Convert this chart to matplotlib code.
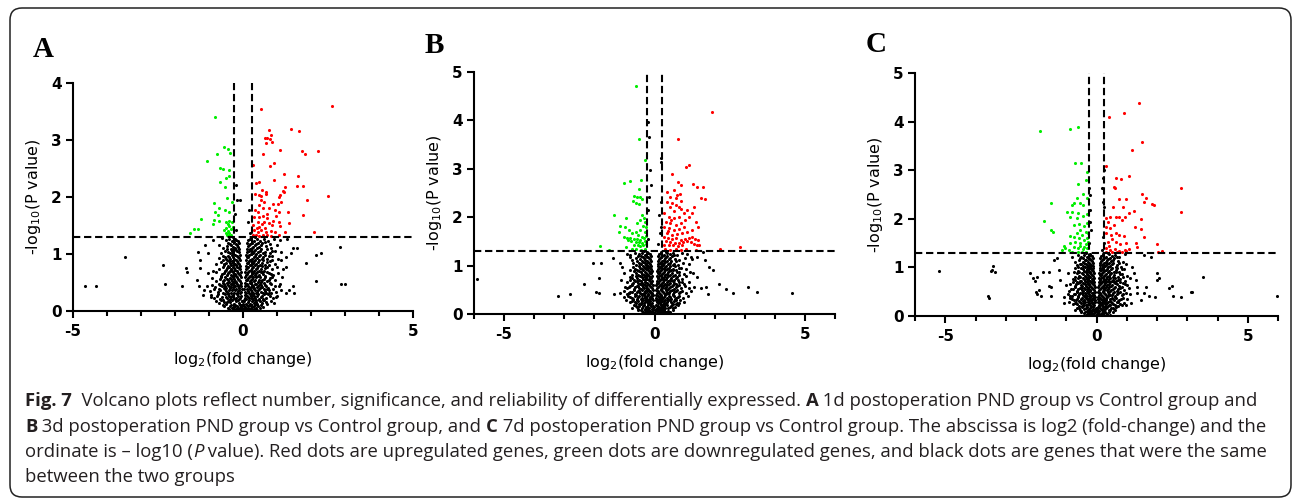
import numpy as np
import matplotlib
matplotlib.use("Agg")
import matplotlib.pyplot as plt
from matplotlib.patches import FancyBboxPatch
from matplotlib.transforms import IdentityTransform
from matplotlib.ticker import MultipleLocator

plt.rcParams["axes.unicode_minus"] = False

# thresholds used in all three panels
fc_cut = 0.263    # log2(1.2)
p_cut = 1.301     # -log10(0.05)

# ---------------- panel A (1d) ----------------
a_core = [
    (-0.04, 0.03), (-0.09, 0.06), (-0.13, 0.02), (-0.18, 0.08), (-0.22, 0.04), (-0.27, 0.07), (-0.33, 0.05), (-0.39, 0.09),
    (-0.45, 0.06), (-0.07, 0.11), (-0.12, 0.14), (-0.2, 0.17), (-0.26, 0.12), (-0.31, 0.19), (-0.37, 0.15), (-0.44, 0.18),
    (-0.5, 0.13), (-0.57, 0.16), (-0.64, 0.19), (-0.72, 0.14), (-0.08, 0.22), (-0.15, 0.26), (-0.21, 0.23), (-0.28, 0.28),
    (-0.34, 0.24), (-0.41, 0.27), (-0.47, 0.22), (-0.54, 0.29), (-0.61, 0.25), (-0.68, 0.21), (-0.77, 0.27), (-0.86, 0.23),
    (-0.95, 0.28), (-0.06, 0.33), (-0.11, 0.37), (-0.17, 0.31), (-0.23, 0.36), (-0.29, 0.39), (-0.35, 0.32), (-0.4, 0.37),
    (-0.46, 0.34), (-0.53, 0.38), (-0.6, 0.31), (-0.67, 0.36), (-0.75, 0.33), (-0.84, 0.38), (-0.98, 0.35), (-0.07, 0.44),
    (-0.13, 0.41), (-0.19, 0.47), (-0.25, 0.43), (-0.31, 0.48), (-0.36, 0.42), (-0.43, 0.46), (-0.49, 0.41), (-0.56, 0.47),
    (-0.63, 0.43), (-0.72, 0.48), (-0.81, 0.42), (-0.92, 0.46), (-1.06, 0.44), (-0.08, 0.53), (-0.14, 0.57), (-0.2, 0.51),
    (-0.26, 0.56), (-0.32, 0.52), (-0.38, 0.58), (-0.45, 0.54), (-0.52, 0.59), (-0.6, 0.52), (-0.69, 0.57), (-0.79, 0.53),
    (-0.91, 0.58), (-0.09, 0.63), (-0.15, 0.67), (-0.22, 0.62), (-0.28, 0.68), (-0.34, 0.64), (-0.41, 0.69), (-0.48, 0.63),
    (-0.56, 0.67), (-0.66, 0.62), (-0.78, 0.68), (-0.1, 0.73), (-0.17, 0.77), (-0.23, 0.72), (-0.3, 0.78), (-0.36, 0.74),
    (-0.43, 0.79), (-0.51, 0.72), (-0.6, 0.77), (-0.72, 0.74), (-0.87, 0.71), (-0.11, 0.83), (-0.18, 0.87), (-0.25, 0.82),
    (-0.31, 0.88), (-0.38, 0.84), (-0.46, 0.89), (-0.55, 0.83), (-0.66, 0.86), (-0.8, 0.82), (-0.12, 0.93), (-0.19, 0.97),
    (-0.26, 0.92), (-0.33, 0.98), (-0.4, 0.94), (-0.49, 0.91), (-0.59, 0.96), (-0.72, 0.93), (-0.13, 1.03), (-0.21, 1.07),
    (-0.28, 1.02), (-0.35, 1.08), (-0.43, 1.04), (-0.53, 1.06), (-0.65, 1.01), (-0.14, 1.13), (-0.22, 1.17), (-0.3, 1.12),
    (-0.37, 1.18), (-0.46, 1.14), (-0.58, 1.11), (-0.7, 1.16), (-0.15, 1.23), (-0.24, 1.27), (-0.32, 1.22), (-0.4, 1.26),
    (-0.5, 1.24), (-0.62, 1.28), (0.0, 0.01), (-0.02, 0.05), (0.02, 0.09), (0.0, 0.13), (-0.03, 0.17), (0.03, 0.2),
    (0.03, 0.02), (0.07, 0.05), (0.12, 0.03), (0.16, 0.08), (0.21, 0.04), (0.26, 0.07), (0.31, 0.03), (0.37, 0.06),
    (0.43, 0.09), (0.5, 0.05), (0.08, 0.12), (0.14, 0.16), (0.2, 0.13), (0.25, 0.18), (0.31, 0.14), (0.36, 0.19),
    (0.42, 0.12), (0.49, 0.17), (0.56, 0.14), (0.63, 0.19), (0.71, 0.13), (0.82, 0.17), (0.07, 0.23), (0.12, 0.27),
    (0.18, 0.22), (0.24, 0.26), (0.3, 0.29), (0.36, 0.23), (0.42, 0.27), (0.48, 0.21), (0.55, 0.26), (0.62, 0.29),
    (0.69, 0.23), (0.78, 0.27), (0.88, 0.22), (0.99, 0.26), (0.06, 0.34), (0.11, 0.38), (0.17, 0.32), (0.23, 0.36),
    (0.29, 0.31), (0.35, 0.37), (0.41, 0.33), (0.47, 0.39), (0.54, 0.34), (0.61, 0.38), (0.68, 0.32), (0.77, 0.36),
    (0.87, 0.39), (0.98, 0.33), (1.12, 0.37), (0.07, 0.44), (0.13, 0.48), (0.19, 0.42), (0.25, 0.46), (0.31, 0.41),
    (0.37, 0.47), (0.44, 0.43), (0.5, 0.48), (0.57, 0.42), (0.65, 0.46), (0.73, 0.41), (0.83, 0.47), (0.95, 0.43),
    (1.08, 0.48), (0.08, 0.54), (0.14, 0.58), (0.2, 0.52), (0.26, 0.57), (0.33, 0.53), (0.39, 0.59), (0.46, 0.55),
    (0.53, 0.51), (0.61, 0.57), (0.7, 0.53), (0.8, 0.58), (0.93, 0.54), (0.09, 0.64), (0.15, 0.68), (0.21, 0.62),
    (0.28, 0.67), (0.34, 0.63), (0.41, 0.69), (0.48, 0.64), (0.56, 0.68), (0.65, 0.62), (0.75, 0.67), (0.88, 0.63),
    (1.03, 0.66), (0.1, 0.74), (0.16, 0.78), (0.23, 0.72), (0.3, 0.77), (0.37, 0.73), (0.44, 0.79), (0.52, 0.74),
    (0.61, 0.71), (0.71, 0.77), (0.84, 0.73), (1.0, 0.78), (1.18, 0.74), (0.11, 0.84), (0.18, 0.88), (0.25, 0.82),
    (0.32, 0.87), (0.39, 0.83), (0.47, 0.89), (0.56, 0.84), (0.66, 0.81), (0.78, 0.87), (0.93, 0.83), (0.12, 0.94),
    (0.19, 0.98), (0.27, 0.92), (0.34, 0.97), (0.42, 0.93), (0.5, 0.99), (0.6, 0.94), (0.71, 0.91), (0.85, 0.96),
    (1.02, 0.92), (0.13, 1.04), (0.21, 1.08), (0.28, 1.02), (0.36, 1.07), (0.45, 1.03), (0.54, 1.09), (0.65, 1.04),
    (0.78, 1.01), (0.94, 1.06), (1.12, 1.03), (0.14, 1.14), (0.22, 1.18), (0.3, 1.12), (0.38, 1.17), (0.47, 1.13),
    (0.57, 1.19), (0.69, 1.14), (0.83, 1.11), (0.99, 1.16), (0.15, 1.24), (0.23, 1.28), (0.31, 1.22), (0.4, 1.27),
    (0.5, 1.23), (0.61, 1.26), (0.74, 1.22), (0.9, 1.27), (1.1, 1.24), (1.3, 1.26),
    # denser inner arms
    (-0.06, 0.08), (-0.15, 0.05), (-0.24, 0.09), (-0.3, 0.02), (-0.42, 0.03), (-0.55, 0.08), (-0.04, 0.18), (-0.09, 0.1),
    (-0.16, 0.19), (-0.23, 0.11), (-0.34, 0.11), (-0.4, 0.2), (-0.47, 0.16), (-0.6, 0.11), (-0.8, 0.17), (-0.05, 0.27),
    (-0.11, 0.21), (-0.18, 0.29), (-0.25, 0.21), (-0.31, 0.26), (-0.38, 0.21), (-0.44, 0.3), (-0.51, 0.24), (-0.58, 0.2),
    (-0.73, 0.3), (-0.04, 0.39), (-0.09, 0.31), (-0.14, 0.35), (-0.2, 0.39), (-0.26, 0.31), (-0.32, 0.36), (-0.38, 0.4),
    (-0.43, 0.31), (-0.5, 0.35), (-0.56, 0.4), (-0.71, 0.39), (-0.05, 0.49), (-0.1, 0.45), (-0.16, 0.43), (-0.22, 0.5),
    (-0.28, 0.45), (-0.34, 0.47), (-0.4, 0.43), (-0.46, 0.5), (-0.52, 0.44), (-0.6, 0.49), (-0.67, 0.45), (-0.06, 0.6),
    (-0.11, 0.54), (-0.17, 0.59), (-0.23, 0.53), (-0.29, 0.6), (-0.35, 0.56), (-0.42, 0.51), (-0.48, 0.57), (-0.56, 0.55),
    (-0.65, 0.6), (-0.07, 0.69), (-0.12, 0.65), (-0.18, 0.7), (-0.25, 0.65), (-0.31, 0.62), (-0.37, 0.7), (-0.44, 0.66),
    (-0.52, 0.7), (-0.61, 0.65), (-0.08, 0.79), (-0.13, 0.75), (-0.2, 0.8), (-0.26, 0.75), (-0.33, 0.71), (-0.4, 0.77),
    (-0.47, 0.76), (-0.55, 0.8), (-0.09, 0.9), (-0.15, 0.85), (-0.21, 0.9), (-0.28, 0.85), (-0.35, 0.81), (-0.42, 0.87),
    (-0.5, 0.85), (-0.6, 0.9), (-0.1, 0.99), (-0.16, 0.95), (-0.23, 0.99), (-0.3, 0.95), (-0.37, 0.91), (-0.45, 0.97),
    (-0.54, 0.94), (-0.11, 1.09), (-0.17, 1.05), (-0.24, 1.1), (-0.32, 1.05), (-0.39, 1.01), (-0.48, 1.09), (-0.12, 1.19),
    (-0.19, 1.15), (-0.26, 1.21), (-0.34, 1.15), (-0.43, 1.2), (-0.2, 1.25), (-0.28, 1.3),
    (0.05, 0.07), (0.14, 0.05), (0.23, 0.09), (0.33, 0.08), (0.4, 0.02), (0.6, 0.07), (0.04, 0.17), (0.11, 0.1),
    (0.17, 0.19), (0.22, 0.11), (0.28, 0.2), (0.34, 0.11), (0.39, 0.16), (0.46, 0.19), (0.53, 0.11), (0.67, 0.16),
    (0.92, 0.14), (0.05, 0.28), (0.1, 0.21), (0.15, 0.25), (0.21, 0.29), (0.27, 0.22), (0.33, 0.27), (0.39, 0.2),
    (0.45, 0.29), (0.52, 0.24), (0.59, 0.21), (0.74, 0.29), (0.04, 0.39), (0.09, 0.32), (0.14, 0.35), (0.2, 0.39),
    (0.26, 0.33), (0.32, 0.39), (0.38, 0.31), (0.44, 0.36), (0.51, 0.4), (0.58, 0.31), (0.64, 0.35), (0.72, 0.39),
    (0.82, 0.31), (0.05, 0.49), (0.1, 0.45), (0.16, 0.43), (0.22, 0.49), (0.28, 0.44), (0.34, 0.48), (0.41, 0.42),
    (0.47, 0.46), (0.54, 0.45), (0.61, 0.49), (0.69, 0.44), (0.78, 0.49), (0.06, 0.59), (0.11, 0.55), (0.17, 0.6),
    (0.23, 0.54), (0.3, 0.6), (0.36, 0.55), (0.43, 0.51), (0.5, 0.59), (0.57, 0.55), (0.65, 0.59), (0.75, 0.55),
    (0.86, 0.6), (0.07, 0.69), (0.12, 0.65), (0.18, 0.7), (0.25, 0.65), (0.31, 0.7), (0.38, 0.66), (0.45, 0.62),
    (0.52, 0.69), (0.6, 0.65), (0.7, 0.69), (0.81, 0.65), (0.08, 0.79), (0.13, 0.75), (0.2, 0.8), (0.27, 0.75),
    (0.34, 0.8), (0.41, 0.76), (0.48, 0.71), (0.56, 0.79), (0.66, 0.76), (0.77, 0.8), (0.09, 0.89), (0.15, 0.85),
    (0.21, 0.9), (0.29, 0.85), (0.36, 0.9), (0.43, 0.86), (0.51, 0.81), (0.6, 0.89), (0.71, 0.86), (0.85, 0.9),
    (0.1, 0.99), (0.16, 0.95), (0.23, 1.0), (0.31, 0.95), (0.38, 1.0), (0.46, 0.96), (0.55, 0.91), (0.65, 0.99),
    (0.77, 0.96), (0.11, 1.09), (0.18, 1.05), (0.25, 1.1), (0.33, 1.05), (0.41, 1.1), (0.5, 1.06), (0.6, 1.01),
    (0.72, 1.09), (0.86, 1.06), (0.12, 1.19), (0.19, 1.15), (0.26, 1.2), (0.35, 1.15), (0.44, 1.2), (0.53, 1.16),
    (0.64, 1.21), (0.78, 1.18), (0.2, 1.26), (0.36, 1.3),
]
a_black = [
    (-4.65, 0.43), (-4.31, 0.44), (-3.46, 0.94), (-2.36, 0.80), (-2.29, 0.47), (-1.79, 0.43), (-1.68, 0.75), (-1.66, 0.69),
    (-1.31, 1.04), (-1.26, 0.89), (-1.35, 0.54), (-1.29, 0.43), (-1.14, 0.37), (-1.19, 0.28), (-0.94, 0.25), (-1.26, 0.75),
    (-1.04, 0.66), (-1.11, 1.16), (-1.02, 1.01), (-0.89, 1.25), (2.86, 1.12), (2.88, 0.47), (3.01, 0.47), (2.15, 0.53),
    (2.15, 0.99), (2.29, 1.01), (1.85, 0.85), (1.51, 0.31), (1.36, 0.37), (1.46, 0.43), (1.46, 1.10), (1.58, 1.10),
    (1.41, 1.01), (1.26, 0.95), (0.97, 0.25), (1.07, 0.43), (1.16, 0.60), (1.26, 0.78), (1.12, 0.89), (1.26, 0.31),
    (0.58, 0.19), (0.77, 0.31), (-0.21, 2.21), (-0.19, 1.95), (-0.23, 1.71), (-0.21, 1.42), (0.19, 1.77), (0.16, 1.57),
    (0.21, 1.36), (-0.09, 1.95),
]
a_green = [
    (-0.82, 3.40), (-0.55, 2.87), (-0.45, 2.84), (-0.38, 2.78), (-0.76, 2.75), (-1.07, 2.63), (-0.69, 2.51), (-0.58, 2.49),
    (-0.42, 2.47), (-0.40, 2.36), (-0.50, 2.34), (-0.67, 2.26), (-0.52, 2.17), (-0.86, 1.89), (-0.47, 1.98), (-0.33, 1.91),
    (-0.72, 1.80), (-0.81, 1.74), (-0.54, 1.77), (-0.42, 1.74), (-0.75, 1.68), (-1.24, 1.61), (-0.85, 1.60), (-0.70, 1.58),
    (-0.50, 1.57), (-0.40, 1.58), (-0.32, 1.57), (-0.45, 1.52), (-0.40, 1.49), (-0.50, 1.45), (-0.35, 1.43), (-0.45, 1.40),
    (-0.40, 1.37), (-0.50, 1.37), (-0.35, 1.33), (-0.42, 1.32), (-0.89, 1.52), (-1.43, 1.44), (-1.32, 1.44), (-1.56, 1.37),
    (-0.55, 1.42), (-0.30, 1.47), (-0.47, 1.34),
]
a_red = [
    (0.53, 3.54), (2.61, 3.60), (0.76, 3.17), (0.83, 3.09), (0.64, 3.03), (0.72, 3.04), (0.78, 3.01), (0.68, 2.94),
    (0.86, 2.97), (1.41, 3.20), (1.65, 3.15), (1.09, 2.82), (1.74, 2.80), (1.83, 2.76), (2.21, 2.81), (0.60, 2.75),
    (0.91, 2.60), (0.79, 2.55), (0.30, 2.57), (1.21, 2.41), (1.62, 2.37), (0.91, 2.29), (0.38, 2.25), (0.46, 2.26),
    (1.24, 2.18), (1.58, 2.19), (1.75, 2.20), (0.55, 2.12), (0.68, 2.09), (1.18, 2.11), (1.21, 2.08), (2.49, 2.02),
    (0.35, 2.05), (0.46, 2.04), (0.54, 2.01), (0.68, 2.06), (1.08, 2.04), (1.07, 2.00), (1.89, 1.94), (0.63, 1.91),
    (0.87, 1.88), (1.04, 1.87), (1.11, 1.91), (0.48, 1.86), (0.60, 1.81), (0.75, 1.80), (0.95, 1.77), (0.36, 1.77),
    (0.45, 1.74), (1.07, 1.73), (1.33, 1.74), (1.77, 1.68), (0.33, 1.65), (0.48, 1.65), (0.60, 1.66), (0.72, 1.64),
    (0.97, 1.66), (0.87, 1.58), (1.05, 1.56), (1.34, 1.55), (0.43, 1.57), (0.63, 1.57), (0.77, 1.55), (0.30, 1.51),
    (0.48, 1.48), (0.66, 1.46), (0.85, 1.50), (1.09, 1.49), (0.33, 1.42), (0.43, 1.39), (0.54, 1.42), (0.68, 1.38),
    (0.82, 1.41), (0.95, 1.38), (1.24, 1.39), (2.09, 1.39), (0.28, 1.33), (0.38, 1.34), (0.48, 1.32), (0.58, 1.33),
    (0.72, 1.33), (0.82, 1.32), (1.07, 1.34), (0.40, 1.45), (0.56, 1.52), (0.70, 1.70), (0.52, 1.95),
]

# ---------------- panel B (3d) ----------------
b_core = [
    (-0.03, 0.02), (-0.08, 0.05), (-0.13, 0.03), (-0.18, 0.07), (-0.24, 0.04), (-0.3, 0.08), (-0.37, 0.05), (-0.45, 0.09),
    (-0.06, 0.12), (-0.11, 0.16), (-0.17, 0.13), (-0.23, 0.18), (-0.29, 0.14), (-0.35, 0.19), (-0.42, 0.12), (-0.5, 0.17),
    (-0.58, 0.14), (-0.67, 0.19), (-0.08, 0.23), (-0.14, 0.27), (-0.2, 0.22), (-0.26, 0.28), (-0.32, 0.24), (-0.39, 0.29),
    (-0.46, 0.23), (-0.54, 0.27), (-0.62, 0.22), (-0.71, 0.28), (-0.82, 0.25), (-0.94, 0.29), (-0.07, 0.34), (-0.12, 0.38),
    (-0.18, 0.32), (-0.24, 0.37), (-0.3, 0.33), (-0.36, 0.39), (-0.43, 0.34), (-0.5, 0.38), (-0.58, 0.32), (-0.66, 0.37),
    (-0.76, 0.33), (-0.88, 0.38), (-1.02, 0.35), (-0.08, 0.44), (-0.14, 0.48), (-0.2, 0.42), (-0.26, 0.47), (-0.33, 0.43),
    (-0.4, 0.49), (-0.47, 0.44), (-0.55, 0.48), (-0.64, 0.42), (-0.74, 0.46), (-0.86, 0.43), (-1.0, 0.47), (-1.15, 0.44),
    (-0.09, 0.54), (-0.15, 0.58), (-0.21, 0.52), (-0.28, 0.57), (-0.35, 0.53), (-0.42, 0.59), (-0.5, 0.54), (-0.59, 0.58),
    (-0.69, 0.52), (-0.8, 0.57), (-0.93, 0.53), (-0.1, 0.64), (-0.16, 0.68), (-0.23, 0.62), (-0.3, 0.67), (-0.37, 0.63),
    (-0.45, 0.69), (-0.54, 0.64), (-0.64, 0.68), (-0.76, 0.62), (-0.9, 0.66), (-0.11, 0.74), (-0.17, 0.78), (-0.24, 0.72),
    (-0.31, 0.77), (-0.39, 0.73), (-0.47, 0.79), (-0.57, 0.74), (-0.68, 0.71), (-0.82, 0.77), (-0.12, 0.84), (-0.19, 0.88),
    (-0.26, 0.82), (-0.33, 0.87), (-0.41, 0.83), (-0.5, 0.89), (-0.61, 0.84), (-0.74, 0.81), (-0.13, 0.94), (-0.2, 0.98),
    (-0.27, 0.92), (-0.35, 0.97), (-0.43, 0.93), (-0.53, 0.99), (-0.65, 0.94), (-0.8, 0.91), (-0.14, 1.04), (-0.21, 1.08),
    (-0.29, 1.02), (-0.37, 1.07), (-0.46, 1.03), (-0.57, 1.09), (-0.7, 1.05), (-0.15, 1.14), (-0.22, 1.18), (-0.3, 1.12),
    (-0.39, 1.17), (-0.49, 1.13), (-0.6, 1.16), (-0.75, 1.12), (-0.16, 1.24), (-0.24, 1.28), (-0.32, 1.22), (-0.41, 1.27),
    (-0.52, 1.23), (-0.65, 1.26), (-0.82, 1.22), (0.03, 0.03), (0.08, 0.06), (0.13, 0.02), (0.18, 0.08), (0.24, 0.05),
    (0.3, 0.09), (0.37, 0.04), (0.44, 0.07), (0.52, 0.05), (0.07, 0.13), (0.12, 0.17), (0.18, 0.12), (0.24, 0.16),
    (0.3, 0.19), (0.36, 0.13), (0.43, 0.18), (0.5, 0.14), (0.58, 0.19), (0.67, 0.15), (0.77, 0.18), (0.07, 0.24),
    (0.12, 0.28), (0.18, 0.22), (0.24, 0.27), (0.3, 0.23), (0.36, 0.29), (0.43, 0.24), (0.5, 0.28), (0.58, 0.22),
    (0.66, 0.27), (0.75, 0.23), (0.86, 0.28), (0.98, 0.25), (0.06, 0.34), (0.11, 0.38), (0.17, 0.32), (0.23, 0.37),
    (0.29, 0.33), (0.35, 0.39), (0.42, 0.34), (0.49, 0.38), (0.56, 0.32), (0.64, 0.37), (0.73, 0.33), (0.83, 0.38),
    (0.95, 0.34), (1.1, 0.37), (0.07, 0.44), (0.13, 0.48), (0.19, 0.42), (0.25, 0.47), (0.32, 0.43), (0.38, 0.49),
    (0.45, 0.44), (0.53, 0.48), (0.61, 0.42), (0.7, 0.47), (0.8, 0.43), (0.92, 0.48), (1.06, 0.44), (1.22, 0.47),
    (0.08, 0.54), (0.14, 0.58), (0.2, 0.52), (0.27, 0.57), (0.34, 0.53), (0.41, 0.59), (0.49, 0.54), (0.57, 0.58),
    (0.66, 0.52), (0.76, 0.57), (0.88, 0.53), (1.02, 0.58), (0.09, 0.64), (0.15, 0.68), (0.22, 0.62), (0.29, 0.67),
    (0.36, 0.63), (0.44, 0.69), (0.52, 0.64), (0.61, 0.68), (0.71, 0.62), (0.83, 0.67), (0.97, 0.63), (1.14, 0.66),
    (0.1, 0.74), (0.16, 0.78), (0.23, 0.72), (0.3, 0.77), (0.38, 0.73), (0.46, 0.79), (0.55, 0.74), (0.65, 0.71),
    (0.76, 0.77), (0.9, 0.73), (1.06, 0.78), (0.11, 0.84), (0.18, 0.88), (0.25, 0.82), (0.32, 0.87), (0.4, 0.83),
    (0.49, 0.89), (0.58, 0.84), (0.69, 0.81), (0.82, 0.87), (0.98, 0.83), (1.18, 0.86), (0.12, 0.94), (0.19, 0.98),
    (0.26, 0.92), (0.34, 0.97), (0.42, 0.93), (0.51, 0.99), (0.61, 0.94), (0.73, 0.91), (0.87, 0.96), (1.04, 0.92),
    (0.13, 1.04), (0.2, 1.08), (0.28, 1.02), (0.36, 1.07), (0.45, 1.03), (0.55, 1.09), (0.66, 1.04), (0.79, 1.01),
    (0.95, 1.06), (1.14, 1.03), (0.14, 1.14), (0.22, 1.18), (0.3, 1.12), (0.38, 1.17), (0.47, 1.13), (0.57, 1.19),
    (0.69, 1.14), (0.83, 1.11), (1.0, 1.16), (1.25, 1.13), (0.15, 1.24), (0.23, 1.28), (0.31, 1.22), (0.4, 1.27),
    (0.5, 1.23), (0.61, 1.26), (0.74, 1.22), (0.9, 1.27), (1.08, 1.24), (0.0, 0.02), (0.01, 0.08), (-0.01, 0.14),
    # denser inner arms
    (-0.05, 0.08), (-0.15, 0.06), (-0.21, 0.1), (-0.33, 0.02), (-0.41, 0.07), (-0.55, 0.09), (-0.04, 0.17), (-0.09, 0.11),
    (-0.14, 0.2), (-0.2, 0.11), (-0.26, 0.15), (-0.32, 0.11), (-0.38, 0.16), (-0.46, 0.2), (-0.54, 0.11), (-0.62, 0.17),
    (-0.76, 0.13), (-0.05, 0.28), (-0.11, 0.21), (-0.17, 0.26), (-0.23, 0.22), (-0.29, 0.29), (-0.35, 0.22), (-0.42, 0.26),
    (-0.5, 0.21), (-0.58, 0.29), (-0.66, 0.24), (-0.76, 0.27), (-0.04, 0.39), (-0.09, 0.32), (-0.15, 0.36), (-0.21, 0.39),
    (-0.27, 0.31), (-0.33, 0.36), (-0.4, 0.4), (-0.46, 0.31), (-0.54, 0.35), (-0.62, 0.39), (-0.7, 0.32), (-0.82, 0.36),
    (-0.05, 0.49), (-0.11, 0.44), (-0.17, 0.47), (-0.23, 0.41), (-0.3, 0.48), (-0.36, 0.44), (-0.43, 0.41), (-0.51, 0.47),
    (-0.59, 0.45), (-0.69, 0.49), (-0.8, 0.45), (-0.93, 0.41), (-0.06, 0.59), (-0.12, 0.55), (-0.18, 0.6), (-0.24, 0.54),
    (-0.31, 0.6), (-0.38, 0.55), (-0.46, 0.51), (-0.54, 0.57), (-0.64, 0.55), (-0.74, 0.6), (-0.86, 0.56), (-0.07, 0.69),
    (-0.13, 0.65), (-0.19, 0.7), (-0.26, 0.65), (-0.33, 0.7), (-0.41, 0.65), (-0.49, 0.62), (-0.59, 0.69), (-0.7, 0.65),
    (-0.83, 0.7), (-0.08, 0.79), (-0.14, 0.75), (-0.2, 0.8), (-0.27, 0.75), (-0.35, 0.8), (-0.43, 0.76), (-0.52, 0.71),
    (-0.62, 0.79), (-0.75, 0.75), (-0.09, 0.89), (-0.15, 0.85), (-0.22, 0.9), (-0.29, 0.85), (-0.37, 0.9), (-0.45, 0.86),
    (-0.55, 0.81), (-0.67, 0.88), (-0.1, 0.99), (-0.16, 0.95), (-0.23, 1.0), (-0.31, 0.95), (-0.39, 1.0), (-0.48, 0.96),
    (-0.59, 0.91), (-0.72, 0.98), (-0.11, 1.09), (-0.18, 1.05), (-0.25, 1.1), (-0.33, 1.05), (-0.42, 1.1), (-0.51, 1.06),
    (-0.63, 1.01), (-0.12, 1.19), (-0.19, 1.15), (-0.27, 1.2), (-0.35, 1.15), (-0.44, 1.2), (-0.55, 1.19), (-0.2, 1.26),
    (-0.36, 1.3), (0.05, 0.09), (0.15, 0.05), (0.21, 0.08), (0.33, 0.07), (0.47, 0.02), (0.6, 0.08), (0.04, 0.18),
    (0.1, 0.11), (0.15, 0.15), (0.21, 0.19), (0.27, 0.12), (0.33, 0.16), (0.39, 0.2), (0.46, 0.12), (0.54, 0.17),
    (0.62, 0.12), (0.72, 0.2), (0.05, 0.29), (0.1, 0.22), (0.15, 0.26), (0.21, 0.29), (0.27, 0.21), (0.33, 0.26),
    (0.39, 0.22), (0.46, 0.29), (0.54, 0.25), (0.62, 0.21), (0.7, 0.29), (0.8, 0.22), (0.04, 0.39), (0.09, 0.31),
    (0.14, 0.35), (0.2, 0.39), (0.26, 0.31), (0.32, 0.36), (0.38, 0.41), (0.45, 0.31), (0.52, 0.35), (0.6, 0.4),
    (0.68, 0.31), (0.78, 0.36), (0.05, 0.49), (0.1, 0.45), (0.16, 0.43), (0.22, 0.5), (0.28, 0.45), (0.35, 0.41),
    (0.41, 0.46), (0.49, 0.43), (0.57, 0.49), (0.65, 0.45), (0.75, 0.5), (0.86, 0.45), (0.06, 0.59), (0.11, 0.55),
    (0.17, 0.6), (0.24, 0.53), (0.3, 0.59), (0.37, 0.56), (0.45, 0.51), (0.53, 0.56), (0.61, 0.6), (0.71, 0.55),
    (0.82, 0.6), (0.07, 0.69), (0.12, 0.65), (0.19, 0.7), (0.25, 0.64), (0.32, 0.7), (0.4, 0.66), (0.48, 0.61),
    (0.56, 0.7), (0.66, 0.65), (0.77, 0.7), (0.9, 0.66), (0.08, 0.79), (0.13, 0.75), (0.2, 0.8), (0.27, 0.75),
    (0.34, 0.8), (0.42, 0.76), (0.5, 0.71), (0.6, 0.79), (0.7, 0.75), (0.83, 0.8), (0.09, 0.89), (0.15, 0.85),
    (0.21, 0.9), (0.29, 0.85), (0.36, 0.9), (0.44, 0.86), (0.53, 0.81), (0.63, 0.9), (0.75, 0.86), (0.1, 0.99),
    (0.16, 0.95), (0.23, 1.0), (0.3, 0.95), (0.38, 1.0), (0.47, 0.96), (0.56, 0.91), (0.67, 0.99), (0.8, 0.96),
    (0.11, 1.09), (0.17, 1.05), (0.24, 1.1), (0.32, 1.05), (0.41, 1.1), (0.5, 1.06), (0.61, 1.01), (0.73, 1.09),
    (0.12, 1.19), (0.18, 1.15), (0.26, 1.2), (0.34, 1.15), (0.43, 1.2), (0.52, 1.16), (0.65, 1.21), (0.2, 1.26),
    (0.37, 1.29),
]
b_black = [
    (-5.91, 0.72), (-3.21, 0.38), (-2.82, 0.41), (-2.33, 0.61), (-2.06, 1.05), (-1.78, 1.05), (-1.83, 0.75), (-1.94, 0.45),
    (-1.83, 0.43), (-1.38, 1.15), (-1.36, 0.41), (-1.16, 1.06), (-1.08, 0.98), (-1.00, 0.84), (-1.13, 0.70), (-0.97, 0.56),
    (-0.86, 0.43), (-0.93, 1.25), (-0.80, 1.18), (1.60, 1.29), (1.67, 1.12), (1.82, 0.98), (1.94, 0.91), (2.14, 0.63),
    (2.37, 0.51), (2.62, 0.43), (3.11, 0.55), (3.40, 0.45), (4.57, 0.43), (1.53, 0.53), (1.78, 0.41), (1.70, 0.56),
    (1.31, 0.56), (1.14, 0.53), (1.42, 0.77), (1.29, 0.84), (1.20, 1.18), (1.42, 1.18), (-0.22, 3.97), (-0.19, 3.66),
    (-0.16, 2.98), (-0.11, 2.67), (-0.19, 2.42), (-0.22, 2.15), (0.20, 3.22), (0.20, 2.32), (0.14, 2.05), (0.22, 1.80),
    (0.18, 1.67), (0.22, 3.15), (-0.20, 1.55), (0.10, 1.45),
]
b_green = [
    (-0.62, 4.72), (-0.53, 3.62), (-0.31, 3.18), (-1.02, 2.71), (-0.80, 2.75), (-0.44, 2.77), (-0.52, 2.58), (-0.67, 2.44),
    (-0.58, 2.41), (-0.47, 2.42), (-0.71, 2.34), (-0.60, 2.30), (-0.52, 2.27), (-0.41, 2.37), (-1.36, 2.04), (-0.96, 1.99),
    (-0.41, 2.05), (-0.36, 1.98), (-0.47, 1.94), (-0.31, 1.91), (-0.58, 1.87), (-0.38, 1.82), (-0.27, 1.80), (-1.16, 1.82),
    (-1.19, 1.70), (-0.97, 1.80), (-0.86, 1.74), (-0.74, 1.67), (-0.63, 1.70), (-0.47, 1.74), (-0.33, 1.70), (-0.56, 1.63),
    (-0.41, 1.60), (-0.28, 1.61), (-1.02, 1.60), (-0.91, 1.56), (-0.80, 1.58), (-0.69, 1.54), (-0.58, 1.55), (-0.47, 1.53),
    (-0.36, 1.56), (-0.78, 1.50), (-0.63, 1.48), (-0.52, 1.49), (-0.41, 1.47), (-0.30, 1.50), (-0.69, 1.43), (-0.56, 1.42),
    (-0.38, 1.43), (-0.27, 1.44), (-0.47, 1.41), (-0.88, 1.52), (-1.82, 1.40), (-1.52, 1.32), (-0.95, 1.38), (-0.75, 1.35),
    (-0.60, 1.34), (-0.45, 1.33), (-0.33, 1.35),
]
b_red = [
    (1.91, 4.18), (0.79, 3.62), (1.14, 3.08), (1.04, 3.04), (0.59, 2.89), (0.78, 2.73), (0.87, 2.67), (0.42, 2.53),
    (0.64, 2.56), (0.76, 2.46), (0.84, 2.48), (0.53, 2.42), (0.70, 2.39), (0.87, 2.34), (0.40, 2.32), (0.59, 2.30),
    (0.70, 2.25), (0.81, 2.22), (0.89, 2.16), (0.51, 2.22), (1.29, 2.68), (1.42, 2.62), (1.61, 2.63), (1.53, 2.39),
    (1.68, 2.37), (1.31, 2.22), (1.09, 2.15), (0.98, 2.08), (1.14, 2.01), (1.26, 2.08), (1.03, 1.94), (0.31, 2.08),
    (0.48, 2.01), (0.64, 1.98), (0.81, 2.01), (0.37, 1.91), (0.53, 1.87), (0.70, 1.84), (0.87, 1.87), (0.31, 1.80),
    (0.48, 1.77), (0.64, 1.74), (0.81, 1.75), (0.98, 1.80), (0.40, 1.67), (0.59, 1.63), (0.76, 1.65), (0.92, 1.68),
    (1.09, 1.70), (1.26, 1.74), (1.37, 1.91), (1.44, 1.80), (1.26, 1.60), (1.14, 1.56), (1.34, 1.54), (1.46, 1.52),
    (1.42, 1.43), (0.31, 1.60), (0.46, 1.56), (0.59, 1.54), (0.73, 1.57), (0.87, 1.52), (1.00, 1.55), (0.37, 1.50),
    (0.51, 1.48), (0.67, 1.47), (0.81, 1.46), (0.96, 1.48), (1.09, 1.50), (0.31, 1.43), (0.48, 1.42), (0.62, 1.43),
    (0.78, 1.41), (0.92, 1.43), (1.20, 1.48), (1.31, 1.44), (2.17, 1.35), (2.84, 1.38), (1.38, 1.32), (1.48, 1.42),
    (0.35, 1.34), (0.52, 1.33), (0.70, 1.35), (0.88, 1.33), (1.05, 1.34), (0.44, 1.72), (0.66, 2.12), (0.55, 1.95),
]

# ---------------- panel C (7d) ----------------
c_core = [
    (-0.02, 0.02), (-0.07, 0.06), (-0.12, 0.03), (-0.17, 0.08), (-0.22, 0.04), (-0.28, 0.07), (-0.34, 0.03), (-0.41, 0.06),
    (-0.05, 0.11), (-0.1, 0.15), (-0.16, 0.12), (-0.21, 0.17), (-0.27, 0.13), (-0.33, 0.18), (-0.4, 0.14), (-0.47, 0.19),
    (-0.55, 0.13), (-0.64, 0.17), (-0.07, 0.22), (-0.13, 0.26), (-0.19, 0.21), (-0.25, 0.27), (-0.31, 0.23), (-0.37, 0.28),
    (-0.44, 0.22), (-0.51, 0.26), (-0.59, 0.21), (-0.68, 0.27), (-0.78, 0.24), (-0.9, 0.28), (-0.06, 0.33), (-0.12, 0.37),
    (-0.17, 0.31), (-0.23, 0.36), (-0.29, 0.32), (-0.35, 0.38), (-0.42, 0.33), (-0.49, 0.37), (-0.57, 0.31), (-0.65, 0.36),
    (-0.75, 0.32), (-0.87, 0.37), (-0.07, 0.43), (-0.13, 0.47), (-0.19, 0.41), (-0.25, 0.46), (-0.31, 0.42), (-0.38, 0.48),
    (-0.45, 0.43), (-0.53, 0.47), (-0.61, 0.41), (-0.71, 0.45), (-0.82, 0.42), (-0.95, 0.46), (-0.08, 0.53), (-0.14, 0.57),
    (-0.2, 0.51), (-0.27, 0.56), (-0.33, 0.52), (-0.4, 0.58), (-0.48, 0.53), (-0.56, 0.57), (-0.66, 0.51), (-0.77, 0.56),
    (-0.9, 0.52), (-0.09, 0.63), (-0.15, 0.67), (-0.22, 0.61), (-0.28, 0.66), (-0.35, 0.62), (-0.43, 0.68), (-0.51, 0.63),
    (-0.61, 0.67), (-0.72, 0.61), (-0.86, 0.65), (-0.1, 0.73), (-0.16, 0.77), (-0.23, 0.71), (-0.3, 0.76), (-0.37, 0.72),
    (-0.45, 0.78), (-0.54, 0.73), (-0.65, 0.7), (-0.79, 0.76), (-0.11, 0.83), (-0.18, 0.87), (-0.25, 0.81), (-0.32, 0.86),
    (-0.39, 0.82), (-0.48, 0.88), (-0.58, 0.83), (-0.7, 0.8), (-0.12, 0.93), (-0.19, 0.97), (-0.26, 0.91), (-0.33, 0.96),
    (-0.41, 0.92), (-0.5, 0.98), (-0.61, 0.93), (-0.75, 0.9), (-0.13, 1.03), (-0.2, 1.07), (-0.27, 1.01), (-0.35, 1.06),
    (-0.44, 1.02), (-0.54, 1.08), (-0.66, 1.04), (-0.14, 1.13), (-0.21, 1.17), (-0.29, 1.11), (-0.37, 1.16), (-0.46, 1.12),
    (-0.57, 1.15), (-0.72, 1.11), (-0.15, 1.23), (-0.23, 1.27), (-0.31, 1.21), (-0.4, 1.26), (-0.5, 1.22), (-0.62, 1.25),
    (-0.8, 1.22), (0.03, 0.02), (0.08, 0.05), (0.13, 0.03), (0.18, 0.07), (0.23, 0.04), (0.29, 0.08), (0.35, 0.05),
    (0.42, 0.09), (0.06, 0.12), (0.11, 0.16), (0.17, 0.13), (0.23, 0.18), (0.29, 0.14), (0.35, 0.19), (0.42, 0.12),
    (0.49, 0.17), (0.57, 0.14), (0.66, 0.19), (0.07, 0.23), (0.13, 0.27), (0.19, 0.22), (0.25, 0.28), (0.31, 0.24),
    (0.38, 0.29), (0.45, 0.23), (0.52, 0.27), (0.6, 0.22), (0.69, 0.28), (0.79, 0.24), (0.91, 0.27), (0.06, 0.34),
    (0.12, 0.38), (0.18, 0.32), (0.24, 0.37), (0.3, 0.33), (0.36, 0.39), (0.43, 0.34), (0.5, 0.38), (0.58, 0.32),
    (0.66, 0.37), (0.76, 0.33), (0.87, 0.38), (1.0, 0.35), (0.07, 0.44), (0.13, 0.48), (0.19, 0.42), (0.25, 0.47),
    (0.32, 0.43), (0.39, 0.49), (0.46, 0.44), (0.54, 0.48), (0.62, 0.42), (0.72, 0.47), (0.83, 0.43), (0.96, 0.48),
    (1.12, 0.45), (0.08, 0.54), (0.14, 0.58), (0.2, 0.52), (0.27, 0.57), (0.34, 0.53), (0.41, 0.59), (0.49, 0.54),
    (0.57, 0.58), (0.67, 0.52), (0.78, 0.57), (0.91, 0.53), (1.06, 0.58), (0.09, 0.64), (0.15, 0.68), (0.22, 0.62),
    (0.29, 0.67), (0.36, 0.63), (0.44, 0.69), (0.52, 0.64), (0.62, 0.68), (0.73, 0.62), (0.86, 0.67), (1.01, 0.63),
    (0.1, 0.74), (0.16, 0.78), (0.23, 0.72), (0.3, 0.77), (0.38, 0.73), (0.46, 0.79), (0.55, 0.74), (0.66, 0.71),
    (0.78, 0.77), (0.93, 0.73), (1.1, 0.78), (0.11, 0.84), (0.18, 0.88), (0.25, 0.82), (0.32, 0.87), (0.4, 0.83),
    (0.49, 0.89), (0.59, 0.84), (0.7, 0.81), (0.84, 0.87), (1.0, 0.83), (0.12, 0.94), (0.19, 0.98), (0.26, 0.92),
    (0.34, 0.97), (0.42, 0.93), (0.52, 0.99), (0.63, 0.94), (0.76, 0.91), (0.92, 0.96), (0.13, 1.04), (0.2, 1.08),
    (0.28, 1.02), (0.36, 1.07), (0.45, 1.03), (0.56, 1.09), (0.68, 1.04), (0.82, 1.01), (0.99, 1.06), (0.14, 1.14),
    (0.22, 1.18), (0.3, 1.12), (0.38, 1.17), (0.48, 1.13), (0.59, 1.19), (0.72, 1.14), (0.87, 1.11), (0.15, 1.24),
    (0.23, 1.28), (0.31, 1.22), (0.4, 1.27), (0.5, 1.23), (0.62, 1.26), (0.76, 1.22), (0.93, 1.27), (0.0, 0.03),
    (0.01, 0.09), (-0.01, 0.15),
    # denser inner arms
    (-0.05, 0.09), (-0.14, 0.05), (-0.2, 0.1), (-0.31, 0.02), (-0.38, 0.08), (-0.5, 0.09), (-0.03, 0.17), (-0.08, 0.1),
    (-0.13, 0.19), (-0.19, 0.11), (-0.24, 0.15), (-0.3, 0.11), (-0.36, 0.16), (-0.43, 0.2), (-0.51, 0.11), (-0.59, 0.16),
    (-0.72, 0.13), (-0.04, 0.28), (-0.1, 0.21), (-0.16, 0.26), (-0.22, 0.22), (-0.28, 0.29), (-0.34, 0.22), (-0.4, 0.26),
    (-0.47, 0.21), (-0.55, 0.29), (-0.63, 0.24), (-0.72, 0.27), (-0.04, 0.39), (-0.09, 0.32), (-0.14, 0.36), (-0.2, 0.39),
    (-0.26, 0.31), (-0.32, 0.36), (-0.38, 0.4), (-0.45, 0.31), (-0.52, 0.35), (-0.6, 0.39), (-0.68, 0.32), (-0.8, 0.36),
    (-0.05, 0.49), (-0.1, 0.44), (-0.16, 0.47), (-0.22, 0.41), (-0.28, 0.48), (-0.35, 0.44), (-0.42, 0.41), (-0.49, 0.47),
    (-0.57, 0.45), (-0.66, 0.49), (-0.76, 0.45), (-0.88, 0.41), (-0.06, 0.59), (-0.11, 0.55), (-0.17, 0.6), (-0.23, 0.54),
    (-0.3, 0.6), (-0.37, 0.55), (-0.44, 0.51), (-0.52, 0.57), (-0.61, 0.55), (-0.71, 0.6), (-0.83, 0.56), (-0.07, 0.69),
    (-0.12, 0.65), (-0.19, 0.7), (-0.25, 0.65), (-0.32, 0.7), (-0.39, 0.65), (-0.47, 0.62), (-0.56, 0.69), (-0.67, 0.65),
    (-0.79, 0.7), (-0.08, 0.79), (-0.13, 0.75), (-0.2, 0.8), (-0.27, 0.75), (-0.34, 0.8), (-0.41, 0.76), (-0.5, 0.71),
    (-0.6, 0.79), (-0.72, 0.75), (-0.09, 0.89), (-0.15, 0.85), (-0.22, 0.9), (-0.29, 0.85), (-0.36, 0.9), (-0.44, 0.86),
    (-0.53, 0.81), (-0.65, 0.88), (-0.1, 0.99), (-0.16, 0.95), (-0.23, 1.0), (-0.3, 0.95), (-0.38, 1.0), (-0.46, 0.96),
    (-0.57, 0.91), (-0.7, 0.98), (-0.11, 1.09), (-0.17, 1.05), (-0.25, 1.1), (-0.32, 1.05), (-0.41, 1.1), (-0.5, 1.06),
    (-0.61, 1.01), (-0.12, 1.19), (-0.18, 1.15), (-0.26, 1.2), (-0.34, 1.15), (-0.43, 1.2), (-0.54, 1.19), (-0.2, 1.26),
    (-0.35, 1.3), (0.05, 0.09), (0.14, 0.05), (0.2, 0.08), (0.31, 0.07), (0.44, 0.02), (0.56, 0.08), (0.04, 0.18),
    (0.09, 0.11), (0.14, 0.15), (0.2, 0.19), (0.26, 0.12), (0.32, 0.16), (0.38, 0.2), (0.45, 0.12), (0.53, 0.17),
    (0.61, 0.12), (0.72, 0.2), (0.05, 0.29), (0.1, 0.22), (0.15, 0.26), (0.21, 0.29), (0.27, 0.21), (0.33, 0.26),
    (0.4, 0.22), (0.47, 0.29), (0.55, 0.25), (0.63, 0.21), (0.72, 0.29), (0.84, 0.22), (0.04, 0.39), (0.09, 0.31),
    (0.15, 0.35), (0.21, 0.39), (0.27, 0.31), (0.33, 0.36), (0.39, 0.41), (0.46, 0.31), (0.54, 0.35), (0.62, 0.4),
    (0.7, 0.31), (0.81, 0.36), (0.05, 0.49), (0.1, 0.45), (0.16, 0.43), (0.22, 0.5), (0.28, 0.45), (0.35, 0.41),
    (0.42, 0.46), (0.5, 0.43), (0.58, 0.49), (0.67, 0.45), (0.77, 0.5), (0.89, 0.45), (0.06, 0.59), (0.11, 0.55),
    (0.17, 0.6), (0.24, 0.53), (0.31, 0.59), (0.38, 0.56), (0.45, 0.51), (0.53, 0.56), (0.62, 0.6), (0.72, 0.55),
    (0.84, 0.6), (0.07, 0.69), (0.12, 0.65), (0.19, 0.7), (0.26, 0.64), (0.33, 0.7), (0.4, 0.66), (0.48, 0.61),
    (0.57, 0.7), (0.67, 0.65), (0.79, 0.7), (0.93, 0.66), (0.08, 0.79), (0.13, 0.75), (0.2, 0.8), (0.27, 0.75),
    (0.34, 0.8), (0.42, 0.76), (0.51, 0.71), (0.61, 0.79), (0.72, 0.75), (0.86, 0.8), (0.09, 0.89), (0.15, 0.85),
    (0.22, 0.9), (0.29, 0.85), (0.37, 0.9), (0.45, 0.86), (0.54, 0.81), (0.65, 0.9), (0.77, 0.86), (0.1, 0.99),
    (0.16, 0.95), (0.23, 1.0), (0.31, 0.95), (0.39, 1.0), (0.48, 0.96), (0.58, 0.91), (0.69, 0.99), (0.83, 0.96),
    (0.11, 1.09), (0.17, 1.05), (0.25, 1.1), (0.33, 1.05), (0.42, 1.1), (0.52, 1.06), (0.63, 1.01), (0.76, 1.09),
    (0.12, 1.19), (0.18, 1.15), (0.26, 1.2), (0.35, 1.15), (0.44, 1.2), (0.54, 1.16), (0.67, 1.21), (0.21, 1.26),
    (0.38, 1.29),
]
c_black = [
    (-5.22, 0.93), (-3.59, 0.41), (-3.57, 0.38), (-3.45, 0.95), (-3.42, 1.03), (-3.37, 0.90), (-3.48, 0.93), (-2.19, 0.88),
    (-2.10, 0.79), (-2.02, 0.72), (-1.96, 0.81), (-1.96, 0.45), (-1.89, 0.53), (-1.85, 0.42), (-1.99, 0.50), (-1.77, 0.91),
    (-1.56, 0.90), (-1.49, 0.41), (-1.58, 0.62), (-1.52, 0.60), (-1.41, 1.15), (-1.30, 1.19), (-1.25, 0.95), (-1.21, 0.74),
    (-1.08, 0.26), (-1.08, 0.40), (-1.00, 0.64), (-0.95, 0.88), (3.52, 0.80), (3.11, 0.50), (3.15, 0.49), (5.98, 0.42),
    (2.53, 0.41), (2.78, 0.40), (2.39, 0.57), (2.48, 0.62), (2.01, 0.88), (2.06, 0.79), (1.99, 0.74), (1.95, 0.40),
    (1.73, 0.42), (1.79, 1.22), (1.57, 1.26), (1.62, 0.60), (1.57, 0.47), (1.46, 0.33), (1.35, 0.47), (1.24, 0.88),
    (1.29, 0.74), (1.18, 1.01), (1.35, 0.60), (1.13, 0.26), (0.96, 0.23), (-0.25, 2.63), (-0.22, 2.49), (-0.20, 2.18),
    (-0.23, 1.94), (-0.18, 1.77), (-0.25, 1.50), (0.21, 2.83), (0.24, 3.00), (0.19, 2.63), (0.22, 2.35), (0.26, 2.25),
    (0.20, 1.63), (0.24, 1.50), (0.19, 1.36),
]
c_green = [
    (-1.88, 3.81), (-0.88, 3.85), (-0.62, 3.88), (-0.72, 3.14), (-0.50, 3.14), (-0.31, 2.97), (-0.36, 2.80), (-0.62, 2.71),
    (-0.45, 2.52), (-0.64, 2.42), (-0.75, 2.33), (-0.55, 2.32), (-0.45, 2.28), (-0.80, 2.28), (-0.31, 2.42), (-1.50, 2.32),
    (-0.97, 2.13), (-0.80, 2.15), (-0.62, 2.11), (-0.86, 2.04), (-0.66, 2.01), (-0.44, 2.06), (-0.31, 2.10), (-1.74, 1.96),
    (-0.75, 1.87), (-0.59, 1.89), (-0.42, 1.85), (-0.31, 1.91), (-1.50, 1.77), (-1.45, 1.73), (-0.53, 1.77), (-0.64, 1.70),
    (-0.47, 1.67), (-0.36, 1.73), (-0.29, 1.70), (-0.75, 1.63), (-0.59, 1.60), (-0.42, 1.56), (-0.31, 1.60), (-0.88, 1.64),
    (-0.70, 1.53), (-0.53, 1.50), (-0.36, 1.48), (-0.29, 1.53), (-0.86, 1.50), (-0.75, 1.43), (-0.62, 1.39), (-0.45, 1.37),
    (-0.31, 1.39), (-1.08, 1.44), (-1.03, 1.39), (-1.14, 1.36), (-0.92, 1.36), (-0.80, 1.32), (-0.62, 1.31), (-0.47, 1.31),
    (-0.36, 1.32), (-0.55, 1.45), (-0.40, 1.42),
]
c_red = [
    (1.41, 4.38), (0.41, 4.10), (0.90, 4.18), (1.49, 3.57), (1.18, 3.42), (0.33, 3.09), (1.09, 2.89), (0.63, 2.83),
    (0.82, 2.81), (0.57, 2.66), (0.60, 2.63), (2.80, 2.63), (2.80, 2.13), (1.49, 2.51), (1.62, 2.42), (1.58, 2.35),
    (1.82, 2.30), (1.90, 2.29), (0.74, 2.40), (0.96, 2.40), (0.54, 2.25), (0.87, 2.25), (1.07, 2.11), (1.24, 2.17),
    (0.93, 2.04), (0.74, 2.04), (0.46, 2.04), (0.33, 2.01), (0.63, 2.04), (0.38, 1.94), (0.85, 1.98), (1.46, 1.99),
    (0.30, 1.84), (0.44, 1.82), (0.57, 1.87), (1.27, 1.84), (1.46, 1.80), (0.33, 1.70), (0.49, 1.67), (0.63, 1.70),
    (0.76, 1.67), (0.90, 1.65), (1.57, 1.63), (0.38, 1.53), (0.63, 1.53), (0.79, 1.48), (0.99, 1.50), (1.31, 1.50),
    (1.35, 1.43), (0.33, 1.39), (0.46, 1.36), (0.60, 1.37), (0.75, 1.34), (0.93, 1.36), (1.07, 1.37), (1.99, 1.48),
    (2.18, 1.34), (2.04, 1.32), (0.32, 1.32), (0.52, 1.32), (0.68, 1.32), (0.85, 1.32), (0.99, 1.33), (0.50, 1.58),
    (0.40, 1.45),
]

panels = [
    ("A", a_core + a_black, a_green, a_red, (-5, 5), 4),
    ("B", b_core + b_black, b_green, b_red, (-6, 6), 5),
    ("C", c_core + c_black, c_green, c_red, (-6, 6), 5),
]
# axes boxes in pixels: left, top, right, bottom
boxes = [(73, 83, 413, 311), (474, 72, 835, 314), (915, 73, 1278, 316)]
letter_pos = [(33, 57), (425, 53), (866, 52)]

W, H = 1293, 500
fig = plt.figure(figsize=(W / 100, H / 100), dpi=100)


def draw_volcano(ax, black, green, red, xlim, ymax):
    for pts, col in ((black, "black"), (green, "#00ee00"), (red, "#ff0000")):
        arr = np.array(pts)
        ax.scatter(arr[:, 0], arr[:, 1], s=5, c=col, linewidths=0, zorder=2)
    dash = (0, (3.5, 1.8))
    ax.axhline(p_cut, color="black", lw=1.5, ls=dash, zorder=3)
    ax.axvline(-fc_cut, color="black", lw=1.5, ls=dash, zorder=3)
    ax.axvline(fc_cut, color="black", lw=1.5, ls=dash, zorder=3)
    ax.set_xlim(*xlim)
    ax.set_ylim(0, ymax)
    ax.set_xticks([-5, 0, 5])
    ax.xaxis.set_minor_locator(MultipleLocator(1))
    ax.set_yticks(range(0, ymax + 1))
    for s in ("top", "right"):
        ax.spines[s].set_visible(False)
    for s in ("left", "bottom"):
        ax.spines[s].set_linewidth(1.5)
    ax.tick_params(which="major", length=5, width=1.5, labelsize=11, pad=4.5)
    ax.tick_params(axis="y", which="major", pad=3)
    ax.tick_params(which="minor", length=3.5, width=1.5)
    for lab in ax.get_xticklabels() + ax.get_yticklabels():
        lab.set_fontweight("bold")
    ax.set_xlabel("log$_2$(fold change)", fontsize=11.5, labelpad=8)
    ax.set_ylabel("-log$_{10}$(P value)", fontsize=11.5, labelpad=6)


for (letter, black, green, red, xlim, ymax), (l, t, r, b), (lx, ly) in zip(panels, boxes, letter_pos):
    ax = fig.add_axes([l / W, 1 - b / H, (r - l) / W, (b - t) / H])
    draw_volcano(ax, black, green, red, xlim, ymax)
    fig.text(lx / W, 1 - ly / H, letter, fontsize=21, fontweight="bold",
             family=["Liberation Serif", "DejaVu Serif"], va="baseline")

# rounded frame around the figure
frame = FancyBboxPatch((10, 3), 1281, 489, boxstyle="round,pad=0,rounding_size=12",
                       transform=IdentityTransform(), fill=False, lw=1.1, edgecolor="#222222")
fig.add_artist(frame)

# caption, drawn piece by piece so bold / italic parts sit inline
cap_font = ["Open Sans", "Noto Sans", "DejaVu Sans"]
caption = [
    [("Fig. 7", "bold", "normal"),
     ("  Volcano plots reflect number, significance, and reliability of differentially expressed. ", "normal", "normal"),
     ("A", "bold", "normal"), (" 1d postoperation PND group vs Control group and", "normal", "normal")],
    [("B", "bold", "normal"), (" 3d postoperation PND group vs Control group, and ", "normal", "normal"),
     ("C", "bold", "normal"),
     (" 7d postoperation PND group vs Control group. The abscissa is log2 (fold-change) and the", "normal", "normal")],
    [("ordinate is \u2013 log10 (", "normal", "normal"), ("P", "normal", "italic"),
     (" value). Red dots are upregulated genes, green dots are downregulated genes, and black dots are genes that were the same",
      "normal", "normal")],
    [("between the two groups", "normal", "normal")],
]
baselines = [406, 432, 457, 481.5]
renderer = fig.canvas.get_renderer()


def draw_line(pieces, x, y, fs):
    arts = []
    for txt, weight, style in pieces:
        t = fig.text(x / W, 1 - y / H, txt, fontsize=fs, fontweight=weight, fontstyle=style,
                     family=cap_font, va="baseline", ha="left", color="#231f20")
        bb = t.get_window_extent(renderer)
        x += bb.width
        arts.append(t)
    return arts, x


# size the caption so that the first line spans the same width as in the figure
probe, x_end = draw_line(caption[0], 25, baselines[0], 12)
cap_fs = 12 * (1248 - 25) / (x_end - 25)
for t in probe:
    t.remove()
for pieces, y in zip(caption, baselines):
    draw_line(pieces, 25, y, cap_fs)

fig.savefig("out.png", dpi=100)
